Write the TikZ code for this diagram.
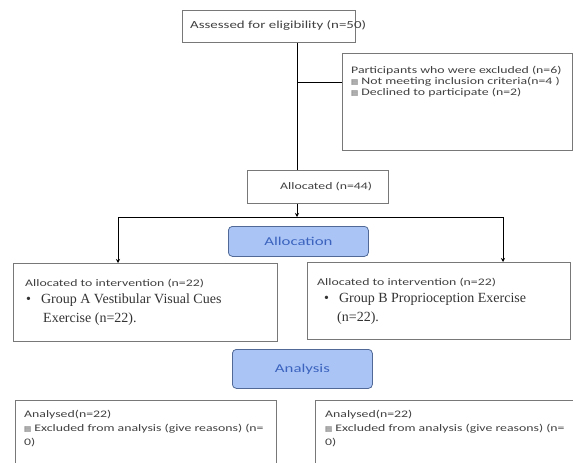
\documentclass[tikz,border=0pt]{standalone}
\usepackage{fontspec}
\setmainfont{Liberation Serif}
\newfontfamily\calfont[FakeStretch=1.38]{Carlito}
\newfontfamily\headfont[FakeStretch=1.4]{Carlito}
\newfontfamily\symfont{DejaVu Sans}
\usetikzlibrary{arrows.meta}
\definecolor{boxgray}{RGB}{120,120,120}
\definecolor{headfill}{RGB}{170,196,246}
\definecolor{headline}{RGB}{80,105,150}
\definecolor{headtext}{RGB}{60,100,190}
\newcommand{\sq}{{\symfont\fontsize{7.5}{7.5}\selectfont ▤}}
\begin{document}
\begin{tikzpicture}[x=1pt,y=-1pt,
  box/.style={draw=boxgray,line width=0.8pt,anchor=north west,inner sep=0pt},
  small/.style={font=\calfont\fontsize{10}{11}\selectfont,text=black!75,align=left,inner sep=0pt},
  serif/.style={font=\fontsize{14}{19}\selectfont,text=black!80,align=left,inner sep=0pt,anchor=north west},
  head/.style={draw=headline,fill=headfill,rounded corners=4pt,line width=0.8pt,anchor=north west,
    text=headtext,font=\headfont\fontsize{12}{13}\selectfont,inner sep=0pt},
  link/.style={black,line width=0.7pt},
  tip/.style={-{Stealth[length=4pt,width=4pt]}}]
\useasboundingbox (0,0) rectangle (573,463);
\clip (0,0) rectangle (573,463);

% boxes of the flow
\node[box,minimum width=173pt,minimum height=32pt] (assess) at (182,10) {};
\node[small,anchor=west,font=\calfont\fontsize{10.8}{11}\selectfont] (assesstxt) at (190,25) {Assessed for eligibility (n=50)};

\node[box,minimum width=230pt,minimum height=97pt] (excl) at (342,53) {};
\node[small,anchor=north west] (excltxt) at (351,66) {Participants who were excluded (n=6)\\
  \sq\ Not meeting inclusion criteria(n=4 )\\
  \sq\ Declined to participate (n=2)};

\node[box,minimum width=141pt,minimum height=33pt] (alloc) at (247,170) {};
\node[small,anchor=west] (alloctxt) at (280,187) {Allocated (n=44)};

% blue headings
\node[head,minimum width=140pt,minimum height=30pt] (allochead) at (228,226) {Allocation};
\node[head,minimum width=140pt,minimum height=39pt] (anahead) at (232,349) {Analysis};

% intervention groups
\node[box,minimum width=264pt,minimum height=78pt] (grpA) at (13,263) {};
\node[small,anchor=north west] (grpAtxt) at (25,279) {Allocated to intervention (n=22)};
\node[serif] (grpAbody) at (26,294)
  {•\hspace{10pt}Group A Vestibular Visual Cues\\\hspace{17pt}Exercise (n=22).};

\node[box,minimum width=263pt,minimum height=77pt] (grpB) at (307,262) {};
\node[small,anchor=north west] (grpBtxt) at (317,278) {Allocated to intervention (n=22)};
\node[serif] (grpBbody) at (324,293)
  {•\hspace{10pt}Group B Proprioception Exercise\\\hspace{13pt}(n=22).};

% analysed boxes, cut at the lower edge
\node[box,minimum width=261pt,minimum height=80pt] (anaA) at (15,400) {};
\node[small,anchor=north west] (anaAtxt) at (24,410) {Analysed(n=22)\\[3pt]
  \sq\ Excluded from analysis (give reasons) (n=\\[3pt] 0)};
\node[box,minimum width=262pt,minimum height=80pt] (anaB) at (315,400) {};
\node[small,anchor=north west] (anaBtxt) at (325,410) {Analysed(n=22)\\[3pt]
  \sq\ Excluded from analysis (give reasons) (n=\\[3pt] 0)};

% connectors
\coordinate (trunk) at (297,0);
\coordinate (split) at (297,217);
\coordinate (lft) at (118,217);
\coordinate (rgt) at (503,217);
\draw[link] (assess.south -| trunk) -- (alloc.north -| trunk);
\draw[link] (trunk |- 0,82) -- (excl.west |- 0,82);
\draw[link,tip] (alloc.south -| trunk) -- (split);
\draw[link] (lft) -- (rgt);
\draw[link,tip] (lft) -- (grpA.north -| lft);
\draw[link,tip] (rgt) -- (grpB.north -| rgt);
\end{tikzpicture}
\end{document}
